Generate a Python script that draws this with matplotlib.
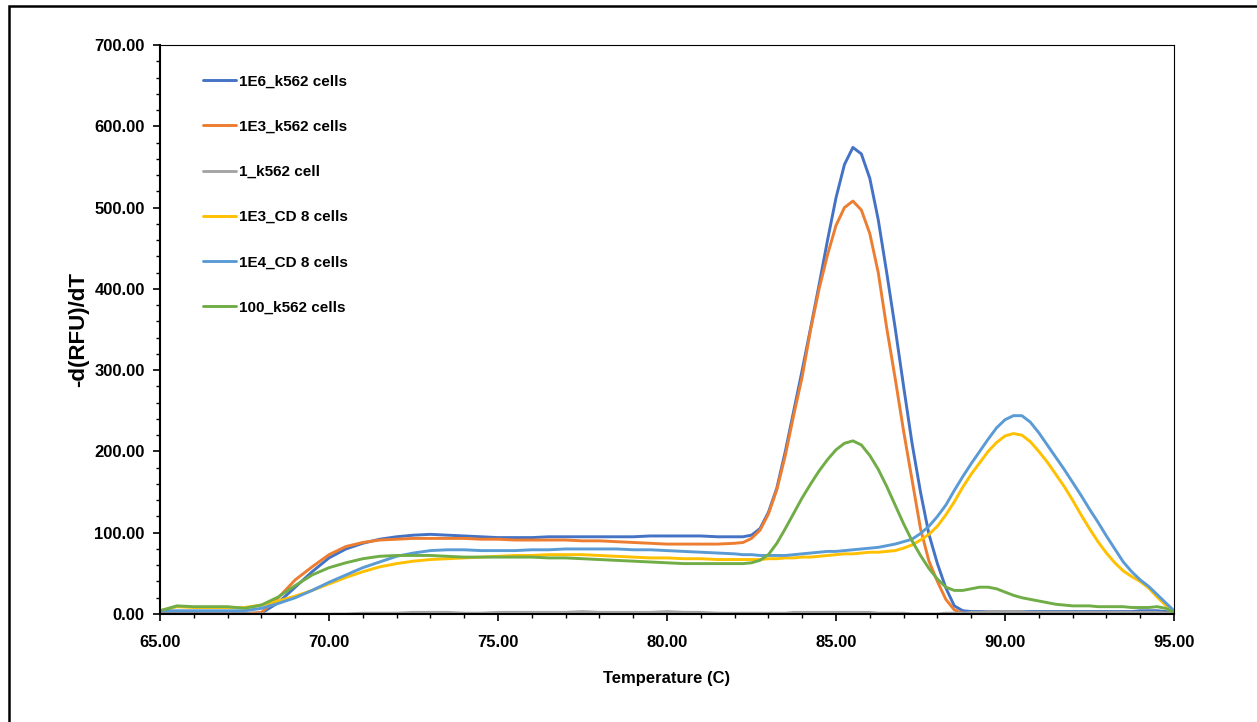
import matplotlib
matplotlib.use("Agg")
import matplotlib.pyplot as plt
from matplotlib.patches import Rectangle
from matplotlib.ticker import MultipleLocator, FormatStrFormatter

plt.rcParams['font.family'] = ['Liberation Sans', 'DejaVu Sans']
plt.rcParams['font.weight'] = 'bold'

# temperatures (C) at which the curves were read
temps = [65, 65.5, 66, 66.5, 67, 67.5, 68, 68.5, 69, 69.5, 70, 70.5, 71, 71.5, 72,
         72.5, 73, 73.5, 74, 74.5, 75, 75.5, 76, 76.5, 77, 77.5, 78, 78.5, 79, 79.5,
         80, 80.5, 81, 81.5, 82,
         82.25, 82.5, 82.75, 83, 83.25, 83.5, 83.75, 84, 84.25, 84.5, 84.75, 85,
         85.25, 85.5, 85.75, 86, 86.25, 86.5, 86.75, 87, 87.25, 87.5, 87.75, 88,
         88.25, 88.5, 88.75, 89, 89.25, 89.5, 89.75, 90, 90.25, 90.5, 90.75, 91,
         91.25, 91.5, 91.75, 92, 92.25, 92.5, 92.75, 93, 93.25, 93.5, 93.75, 94,
         94.25, 94.5, 94.75, 95]

k562_1e6 = [2, 2, 2, 2, 2, 1, 1, 14, 33, 52, 69, 80, 87, 92, 95,
            97, 98, 97, 96, 95, 94, 94, 94, 95, 95, 95, 95, 95, 95, 96,
            96, 96, 96, 95, 95,
            95, 97, 105, 125, 155, 200, 250, 300, 352, 405, 460, 512,
            553, 574, 566, 536, 485, 420, 352, 280, 210, 150, 98, 62,
            32, 10, 4, 3, 3, 3, 3, 3, 3, 3, 3, 3,
            3, 3, 3, 3, 3, 3, 3, 3, 3, 3, 3, 4,
            4, 4, 3, 1]

k562_1e3 = [0, 0, 0, 0, 0, 0, 2, 20, 42, 58, 73, 83, 88, 91, 92,
            93, 93, 93, 93, 92, 92, 91, 91, 91, 91, 90, 90, 89, 88, 87,
            86, 86, 86, 86, 87,
            88, 93, 103, 123, 153, 195, 245, 292, 350, 400, 442, 478,
            500, 508, 497, 468, 420, 352, 290, 225, 165, 105, 65, 40,
            18, 5, 1, 0, 0, 0, 0, 0, 0, 0, 0, 0,
            0, 0, 0, 0, 0, 0, 0, 0, 0, 0, 1, 1,
            1, 1, 1, 1]

k562_1 = [0, 0, 0, 0, 0, 0, 0, 0, 0, 0, 0, 0, 1, 1, 1,
          2, 2, 2, 1, 1, 2, 2, 2, 2, 2, 3, 2, 2, 2, 2,
          3, 2, 2, 1, 1,
          1, 1, 1, 1, 1, 1, 2, 2, 2, 2, 2, 2,
          2, 2, 2, 2, 1, 1, 1, 1, 0, 0, 0, 0,
          1, 1, 1, 2, 2, 3, 3, 3, 3, 3, 2, 2,
          2, 2, 2, 2, 2, 2, 2, 2, 2, 2, 2, 2,
          2, 2, 1, 1]

cd8_1e3 = [4, 9, 8, 8, 8, 8, 11, 16, 22, 29, 37, 45, 52, 58, 62,
           65, 67, 68, 69, 70, 71, 72, 72, 73, 73, 73, 72, 71, 70, 69,
           69, 68, 68, 67, 67,
           67, 67, 67, 68, 68, 69, 69, 70, 70, 71, 72, 73,
           74, 74, 75, 76, 76, 77, 78, 81, 85, 91, 98, 108,
           122, 138, 156, 172, 186, 200, 211, 219, 222, 220, 212, 200,
           187, 172, 157, 140, 122, 105, 89, 75, 63, 53, 46, 40,
           32, 21, 11, 2]

cd8_1e4 = [4, 4, 4, 4, 4, 4, 7, 13, 20, 29, 39, 48, 57, 64, 71,
           75, 78, 79, 79, 78, 78, 78, 79, 79, 80, 80, 80, 80, 79, 79,
           78, 77, 76, 75, 74,
           73, 73, 72, 72, 72, 72, 73, 74, 75, 76, 77, 77,
           78, 79, 80, 81, 82, 84, 86, 89, 92, 99, 108, 120,
           134, 152, 169, 185, 200, 215, 229, 239, 244, 244, 236, 223,
           208, 193, 178, 162, 146, 129, 113, 96, 80, 64, 52, 42,
           34, 24, 14, 4]

k562_100 = [4, 10, 9, 9, 9, 7, 11, 21, 35, 48, 57, 63, 68, 71, 72,
            72, 72, 71, 70, 70, 70, 70, 70, 69, 69, 68, 67, 66, 65, 64,
            63, 62, 62, 62, 62,
            62, 63, 66, 73, 87, 105, 124, 143, 160, 176, 190, 202,
            210, 213, 208, 195, 178, 157, 134, 111, 90, 72, 56, 43,
            33, 29, 29, 31, 33, 33, 31, 27, 23, 20, 18, 16,
            14, 12, 11, 10, 10, 10, 9, 9, 9, 9, 8, 8,
            8, 9, 7, 2]

labels = ['1E6_k562 cells', '1E3_k562 cells', '1_k562 cell',
          '1E3_CD 8 cells', '1E4_CD 8 cells', '100_k562 cells']
colors = ['#4472C4', '#ED7D31', '#A5A5A5', '#FFC000', '#5B9BD5', '#70AD47']
series = [k562_1e6, k562_1e3, k562_1, cd8_1e3, cd8_1e4, k562_100]

fig = plt.figure(figsize=(12.57, 7.22), dpi=100)
ax = fig.add_axes([160 / 1257, 1 - 614 / 722, (1174 - 160) / 1257, (614 - 45) / 722])

for vals, lab, col in zip(series, labels, colors):
    ax.plot(temps, vals, color=col, lw=2.1, label=lab,
            solid_capstyle='round', solid_joinstyle='round')

ax.set_xlim(65, 95)
ax.set_ylim(0, 700)
ax.xaxis.set_major_locator(MultipleLocator(5))
ax.xaxis.set_minor_locator(MultipleLocator(1))
ax.yaxis.set_major_locator(MultipleLocator(100))
ax.yaxis.set_minor_locator(MultipleLocator(20))
ax.xaxis.set_major_formatter(FormatStrFormatter('%.2f'))
ax.yaxis.set_major_formatter(FormatStrFormatter('%.2f'))

ax.tick_params(axis='both', which='major', direction='out', length=5, width=1.2,
               labelsize=12)
ax.tick_params(axis='both', which='minor', direction='out', length=3, width=1.0)
ax.tick_params(axis='x', which='major', pad=10)
ax.tick_params(axis='y', which='major', pad=6)
for lbl in ax.get_xticklabels() + ax.get_yticklabels():
    lbl.set_fontweight('bold')

ax.spines['left'].set_linewidth(1.5)
ax.spines['bottom'].set_linewidth(1.5)
ax.spines['top'].set_linewidth(0.8)
ax.spines['right'].set_linewidth(0.8)

ax.set_xlabel('Temperature (C)', fontsize=12, fontweight='bold', labelpad=15)
ax.set_ylabel('-d(RFU)/dT', fontsize=16, fontweight='bold', labelpad=4)

ax.legend(loc='upper left', bbox_to_anchor=(0.042, 0.948), frameon=False,
          prop={'size': 11, 'weight': 'bold'}, handlelength=2.2,
          handletextpad=0.2, labelspacing=2.04, borderpad=0, borderaxespad=0)

# outer frame around the chart
fig.patches.append(Rectangle((8.5 / 1257, -0.1), 1.2, 1.1 - 5.5 / 722,
                             transform=fig.transFigure, fill=False,
                             edgecolor='black', lw=1.8))

fig.savefig('out.png', dpi=100)
